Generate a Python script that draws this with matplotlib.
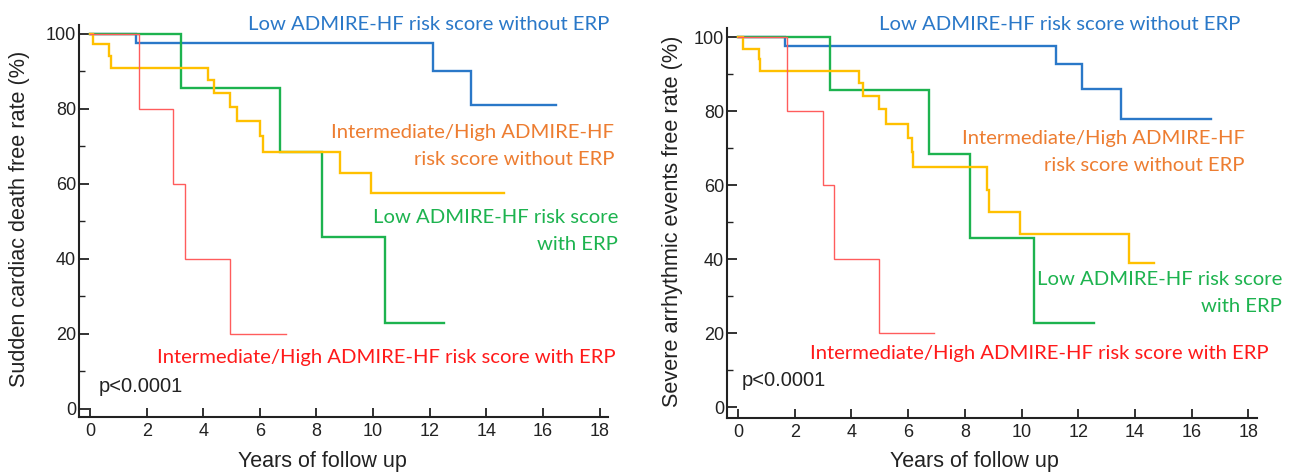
import matplotlib
matplotlib.use("Agg")
import matplotlib.pyplot as plt

W, H = 1297, 474

# Sudden cardiac death (left panel)
scd_low_noerp_t = [0, 1.63, 12.12, 13.47, 16.46]
scd_low_noerp_s = [100, 97.5, 90.2, 81.1, 81.1]
scd_int_noerp_t = [0, 0.12, 0.68, 0.73, 4.17, 4.39, 4.95, 5.18, 6.0, 6.12, 8.83, 9.93, 14.63]
scd_int_noerp_s = [100, 97.2, 94.2, 91.0, 87.7, 84.2, 80.5, 76.9, 72.8, 68.6, 62.8, 57.5, 57.5]
scd_low_erp_t = [0, 3.2, 6.71, 8.21, 10.43, 12.52]
scd_low_erp_s = [100, 85.7, 68.6, 45.7, 22.9, 22.9]
scd_int_erp_t = [0, 1.72, 2.94, 3.37, 4.95, 6.92]
scd_int_erp_s = [100, 80, 60, 40, 20, 20]

# Severe arrhythmic events (right panel)
sae_low_noerp_t = [0, 1.66, 11.22, 12.13, 13.5, 16.68]
sae_low_noerp_s = [100, 97.6, 92.8, 86.0, 78.0, 78.0]
sae_int_noerp_t = [0, 0.16, 0.74, 0.77, 4.25, 4.41, 4.98, 5.22, 6.0, 6.14, 6.18, 8.77, 8.84, 9.95, 13.8, 14.68]
sae_int_noerp_s = [100, 96.9, 94.0, 91.0, 87.7, 84.0, 80.5, 76.5, 72.8, 69.0, 64.9, 58.6, 52.8, 46.9, 39.1, 39.1]
sae_low_erp_t = [0, 3.24, 6.72, 8.18, 10.45, 12.54]
sae_low_erp_s = [100, 85.7, 68.5, 45.7, 22.8, 22.8]
sae_int_erp_t = [0, 1.73, 2.98, 3.4, 4.96, 6.92]
sae_int_erp_s = [100, 80, 60, 40, 20, 20]

x_ticks = [0, 2, 4, 6, 8, 10, 12, 14, 16, 18]
y_ticks = [0, 20, 40, 60, 80, 100]
y_minor = [10, 30, 50, 70, 90]

lbl_low_noerp = "Low ADMIRE-HF risk score without ERP"
lbl_int_noerp = "Intermediate/High ADMIRE-HF\nrisk score without ERP"
lbl_low_erp = "Low ADMIRE-HF risk score\nwith ERP"
lbl_int_erp = "Intermediate/High ADMIRE-HF risk score with ERP"

c_blue = "#2a78c8"
c_yellow = "#ffc000"
c_orange = "#ed7d31"
c_green = "#1db34f"
c_red = "#ff1a1a"
c_redline = "#ff5c5c"
c_ink = "#222222"

plt.rcParams['font.family'] = ['Liberation Sans', 'DejaVu Sans']

fig = plt.figure(figsize=(W / 100, H / 100), dpi=100)


def fx(px):
    return px / W


def fy(py):
    return 1 - py / H


def make_axes(left, right, top, bottom, xlim, ylim):
    ax = fig.add_axes([fx(left), fy(bottom), fx(right) - fx(left), fy(top) - fy(bottom)])
    ax.set_xlim(*xlim)
    ax.set_ylim(*ylim)
    for s in ['top', 'right']:
        ax.spines[s].set_visible(False)
    for s in ['left', 'bottom']:
        ax.spines[s].set_linewidth(1.5)
        ax.spines[s].set_color(c_ink)
    ax.set_xticks(x_ticks)
    ax.set_yticks(y_ticks)
    ax.set_yticks(y_minor, minor=True)
    ax.tick_params(axis='both', which='major', direction='in', labelsize=13,
                   width=1.3, color=c_ink, labelcolor=c_ink)
    ax.tick_params(axis='y', which='major', length=7, pad=2)
    ax.tick_params(axis='x', which='major', length=6.5, pad=4)
    ax.tick_params(axis='y', which='minor', direction='in', length=4, width=1.0, color=c_ink)
    ax.patch.set_alpha(0)
    return ax


def draw_panel(ax, curves):
    for t, s, col, lw in curves:
        ax.step(t, s, where='post', color=col, lw=lw, solid_joinstyle='miter')


def axis_labels(ax, xlab, xpos, ylab, ypos):
    ax.set_ylabel(ylab, fontsize=15.6, color=c_ink, va='center', ha='center')
    ax.yaxis.set_label_coords(fx(ypos[0]), fy(ypos[1]), transform=fig.transFigure)
    ax.set_xlabel(xlab, fontsize=15.5, color=c_ink, va='center', ha='center')
    ax.xaxis.set_label_coords(fx(xpos[0]), fy(xpos[1]), transform=fig.transFigure)


ax1 = make_axes(79, 608, 25, 417, (-0.39, 18.3), (-2.2, 102.4))
draw_panel(ax1, [
    (scd_low_noerp_t, scd_low_noerp_s, c_blue, 1.7),
    (scd_low_erp_t, scd_low_erp_s, c_green, 1.7),
    (scd_int_noerp_t, scd_int_noerp_s, c_yellow, 1.7),
    (scd_int_erp_t, scd_int_erp_s, c_redline, 1.0),
])
axis_labels(ax1, "Years of follow up", (322, 462), "Sudden cardiac death free rate (%)", (20, 219))

ax2 = make_axes(727, 1257, 28, 418, (-0.39, 18.3), (-2.9, 102.5))
draw_panel(ax2, [
    (sae_low_noerp_t, sae_low_noerp_s, c_blue, 1.7),
    (sae_low_erp_t, sae_low_erp_s, c_green, 1.7),
    (sae_int_noerp_t, sae_int_noerp_s, c_yellow, 1.7),
    (sae_int_erp_t, sae_int_erp_s, c_redline, 1.0),
])
axis_labels(ax2, "Years of follow up", (974, 462), "Severe arrhythmic events free rate (%)", (673, 221))

lab_font = ['Lato', 'DejaVu Sans']
lab_size = 14.6


def curve_label(x, y, text, col):
    fig.text(fx(x), fy(y), text, color=col, fontsize=lab_size, family=lab_font,
             ha='right', va='center', multialignment='right', linespacing=1.65)


# left panel labels
curve_label(609, 24, lbl_low_noerp, c_blue)
curve_label(614, 146, lbl_int_noerp, c_orange)
curve_label(618, 231, lbl_low_erp, c_green)
curve_label(616, 358, lbl_int_erp, c_red)
fig.text(fx(99), fy(387), "p<0.0001", fontsize=14.5, color=c_ink, ha='left', va='center')

# right panel labels
curve_label(1240, 25, lbl_low_noerp, c_blue)
curve_label(1245, 152, lbl_int_noerp, c_orange)
curve_label(1282, 293, lbl_low_erp, c_green)
curve_label(1269, 353, lbl_int_erp, c_red)
fig.text(fx(742), fy(381), "p<0.0001", fontsize=14.5, color=c_ink, ha='left', va='center')

fig.savefig("out.png", dpi=100)
